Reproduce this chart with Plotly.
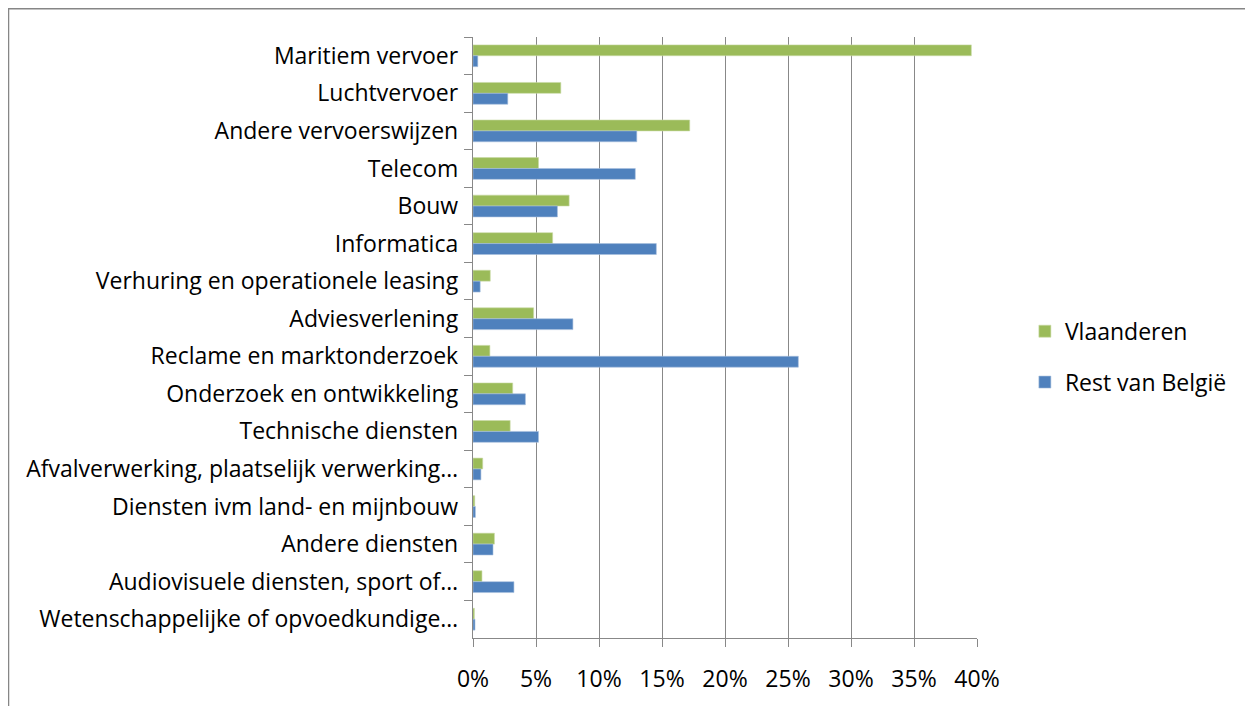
import plotly.graph_objects as go

categories = [
    "Maritiem vervoer",
    "Luchtvervoer",
    "Andere vervoerswijzen",
    "Telecom",
    "Bouw",
    "Informatica",
    "Verhuring en operationele leasing",
    "Adviesverlening",
    "Reclame en marktonderzoek",
    "Onderzoek en ontwikkeling",
    "Technische diensten",
    "Afvalverwerking, plaatselijk verwerking…",
    "Diensten ivm land- en mijnbouw",
    "Andere diensten",
    "Audiovisuele diensten, sport of…",
    "Wetenschappelijke of opvoedkundige…",
]

vlaanderen = [0.3955, 0.0697, 0.172, 0.052, 0.0763, 0.0632, 0.0137, 0.0481,
              0.0134, 0.0315, 0.0295, 0.0077, 0.0014, 0.0170, 0.0071, 0.0011]
rest_belgie = [0.0038, 0.0276, 0.130, 0.1288, 0.0670, 0.1455, 0.0057, 0.0793,
               0.2582, 0.0416, 0.0520, 0.0063, 0.0019, 0.0159, 0.0325, 0.0016]

x_ticks = [0, 0.05, 0.10, 0.15, 0.20, 0.25, 0.30, 0.35, 0.40]

GREEN = "#9BBB59"
BLUE = "#4F81BD"
GRID = "#888888"
FONT = "Open Sans, Noto Sans, sans-serif"

fig = go.Figure()
fig.add_trace(go.Bar(
    y=categories, x=vlaanderen, name="Vlaanderen", orientation="h",
    legendgroup="vl",
    marker=dict(color=GREEN, line=dict(color="#C9DAA6", width=0.6)),
))
fig.add_trace(go.Bar(
    y=categories, x=rest_belgie, name="Rest van België", orientation="h",
    legendgroup="rb",
    marker=dict(color=BLUE, line=dict(color="#A7C0DE", width=0.6)),
))

# the page body adds an 8px margin, so the figure is 8px smaller
fig.update_layout(
    width=1245, height=698,
    margin=dict(l=465, r=276, t=29, b=62),
    paper_bgcolor="white", plot_bgcolor="white",
    barmode="group", bargap=0.42, bargroupgap=0,
    font=dict(family=FONT, size=23, color="#000000"),
    showlegend=True,
    legend=dict(x=1.095, y=0.468, xanchor="left", yanchor="middle",
                font=dict(size=23), tracegroupgap=18),
)

fig.update_xaxes(
    range=[0, 0.40], tickvals=x_ticks, tickformat=".0%",
    showgrid=True, gridcolor=GRID, gridwidth=1.4,
    showline=True, linecolor=GRID, linewidth=1.4,
    ticks="outside", ticklen=8, tickcolor=GRID, tickwidth=1.4,
    ticklabelstandoff=12,
    zeroline=False, fixedrange=True,
)
fig.update_yaxes(
    autorange="reversed", type="category", tickson="boundaries",
    showline=True, linecolor=GRID, linewidth=1.4,
    ticks="outside", ticklen=8, tickcolor=GRID, tickwidth=1.4,
    ticklabelstandoff=9,
    showgrid=False, fixedrange=True,
)

# outer chart border (Excel style), running off the bottom/right
fig.add_shape(type="rect", xref="paper", yref="paper",
              x0=-0.9216, x1=1.7, y0=-0.3, y1=1.047,
              line=dict(color="#868686", width=1.5), layer="below")

fig.write_html("out.html")
